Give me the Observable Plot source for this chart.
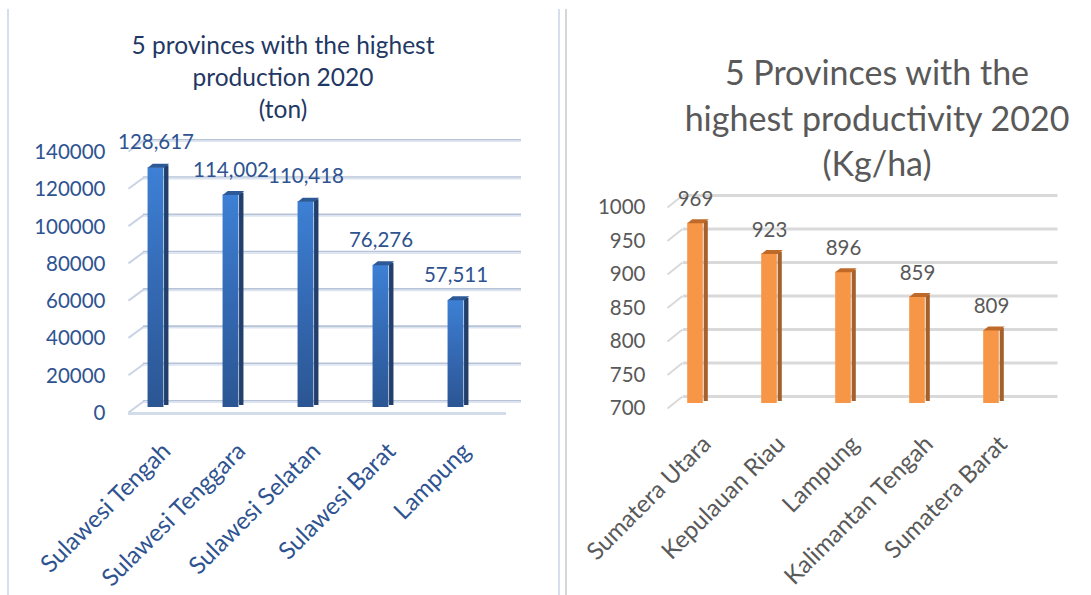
<!DOCTYPE html>
<html><head><meta charset="utf-8">
<script src="https://cdn.jsdelivr.net/npm/d3@7"></script>
<script src="https://cdn.jsdelivr.net/npm/@observablehq/plot@0.6"></script>
<style>
body{margin:0;background:#fff;}
#wrap{position:relative;width:1091px;height:595px;overflow:hidden;font-family:Lato,sans-serif;background:#fff;}
.panel{position:absolute;top:0;}
.title{position:absolute;text-align:center;white-space:nowrap;transform:translateX(-50%);}
.vline{position:absolute;top:9px;bottom:0;width:2px;}
</style></head><body>
<div id="wrap">
 <div class="vline" style="left:7px;background:#D5DFEF"></div>
 <div class="vline" style="left:558px;background:#D5DFEF"></div>
 <div class="vline" style="left:565px;background:#D6D6D6"></div>
 <div id="left" class="panel" style="left:0;width:560px;height:595px"></div>
 <div id="right" class="panel" style="left:560px;width:531px;height:595px"></div>
 <div class="title" id="tL" style="left:283px;top:29px;font-size:24.5px;line-height:32px;color:#1F3864"></div>
 <div class="title" id="tR" style="left:877px;top:49px;font-size:34px;line-height:45.5px;color:#595959"></div>
</div>
<script>
// ---- data ----
const titleL = ["5 provinces with the highest", "production 2020", "(ton)"];
const provL = ["Sulawesi Tengah", "Sulawesi Tenggara", "Sulawesi Selatan", "Sulawesi Barat", "Lampung"];
const prodL = [128617, 114002, 110418, 76276, 57511];
const ticksL = [0, 20000, 40000, 60000, 80000, 100000, 120000, 140000];

const titleR = ["5 Provinces with the", "highest productivity 2020", "(Kg/ha)"];
const provR = ["Sumatera Utara", "Kepulauan Riau", "Lampung", "Kalimantan Tengah", "Sumatera Barat"];
const prodR = [969, 923, 896, 859, 809];
const ticksR = [700, 750, 800, 850, 900, 950, 1000];

document.getElementById("tL").innerHTML = titleL.join("<br>");
document.getElementById("tR").innerHTML = titleR.join("<br>");

const diagSym = (hx, hy) => ({draw(ctx) { ctx.moveTo(-hx, hy); ctx.lineTo(hx, -hy); }});
const capSym = {draw(ctx) {
  ctx.moveTo(-8.25, 0); ctx.lineTo(8.25, 0); ctx.lineTo(13.25, -4); ctx.lineTo(-3.25, -4); ctx.closePath();
}};

function chart3d(o) {
  const data = o.cats.map((c, i) => ({cat: c, v: o.vals[i]}));
  const step = (o.width - o.mL - o.mR) / o.cats.length;
  const inset = (step - 16.5) / 2;
  const fs = 20.5;
  const marks = [];
  // back grid lines
  o.grid.forEach(g => marks.push(Plot.ruleY(o.ticks, {y: d => d, dx: o.backDx, dy: o.backDy + g.off, stroke: g.color, strokeWidth: g.w})));
  // left diagonals (side wall)
  marks.push(Plot.dot(o.ticks, {y: d => d, frameAnchor: "left", symbol: diagSym(7.5, o.diagH), r: 5,
    fill: "none", stroke: o.diagColor, strokeWidth: 2, dx: o.diagDx, dy: o.diagDy}));
  // front floor
  if (o.floor) marks.push(Plot.ruleY([o.ticks[0]], {y: d => d, dx: 12, dy: 6, stroke: o.floor, strokeWidth: 3}));
  // bars: side, front, cap
  marks.push(Plot.barY(data, {x: "cat", y1: o.ticks[0], y2: "v", fill: o.side, insetLeft: inset + 16.5, insetRight: inset - 5, dy: -2}));
  marks.push(Plot.barY(data, {x: "cat", y1: o.ticks[0], y2: "v", fill: o.front, insetLeft: inset, insetRight: inset}));
  marks.push(Plot.dot(data, {x: "cat", y: "v", symbol: capSym, r: 5, fill: o.cap, stroke: "none"}));
  // y tick labels
  marks.push(Plot.text(o.ticks, {y: d => d, frameAnchor: "left", text: o.fmtTick, textAnchor: "end",
    dx: o.tickDx, dy: o.tickDy, fontSize: fs, fill: o.textColor}));
  // value labels
  marks.push(Plot.text(data, {x: "cat", y: "v", text: d => o.fmtVal(d.v), dy: o.valDy, fontSize: fs, fill: o.textColor}));
  // category labels
  marks.push(Plot.text(data, {x: "cat", frameAnchor: "bottom", text: "cat", rotate: -45, textAnchor: "end",
    lineAnchor: "top", dx: o.catDx, dy: o.catDy, fontSize: 24, fill: o.textColor}));
  const svg = Plot.plot({
    width: o.width, height: 595,
    marginLeft: o.mL, marginRight: o.mR, marginTop: o.mT, marginBottom: o.mB,
    x: {type: "band", domain: o.cats, padding: 0, axis: null},
    y: {domain: [o.ticks[0], o.ticks[o.ticks.length - 1]], axis: null},
    style: {fontFamily: "Lato, sans-serif", background: "transparent", overflow: "visible"},
    marks
  });
  if (o.grad) {
    const defs = d3.select(svg).insert("defs", ":first-child");
    const lg = defs.append("linearGradient").attr("id", o.grad.id).attr("x1", 0).attr("y1", 0).attr("x2", 0).attr("y2", 1);
    o.grad.stops.forEach((c, i) => lg.append("stop").attr("offset", i / (o.grad.stops.length - 1)).attr("stop-color", c));
  }
  return svg;
}

document.getElementById("left").appendChild(chart3d({
  cats: provL, vals: prodL, ticks: ticksL,
  width: 560, mL: 116, mR: 66, mT: 146, mB: 188,
  grid: [{color: "#B7C3D6", w: 1.6, off: -0.8}, {color: "#DCE4F0", w: 1.6, off: 0.8}],
  backDx: 27, backDy: -6, diagDx: 19.5, diagDy: -0.5, diagH: 5.5, diagColor: "#C9D4E4",
  floor: "#D3DCEA",
  side: "#223F6C", front: "url(#gradL)", cap: "#2D5A96",
  grad: {id: "gradL", stops: ["#3D80D5", "#3469B3", "#2B5693"]},
  fmtTick: d => d3.format("d")(d), fmtVal: d3.format(","),
  tickDx: -11, tickDy: 6, valDy: -25, catDx: 4, catDy: 33, textColor: "#2E5390"
}));

document.getElementById("right").appendChild(chart3d({
  cats: provR, vals: prodR, ticks: ticksR,
  width: 531, mL: 95.5, mR: 61, mT: 202, mB: 192,
  grid: [{color: "#D9D9D9", w: 3, off: 0}],
  backDx: 27.5, backDy: -7, diagDx: 19, diagDy: -1, diagH: 6, diagColor: "#D9D9D9",
  floor: null,
  side: "#A5612B", front: "#F79646", cap: "#C06A2A",
  grad: null,
  fmtTick: d => String(d), fmtVal: d => String(d),
  tickDx: -10.5, tickDy: 5, valDy: -24, catDx: 5, catDy: 30, textColor: "#595959"
}));
</script>
</body></html>
